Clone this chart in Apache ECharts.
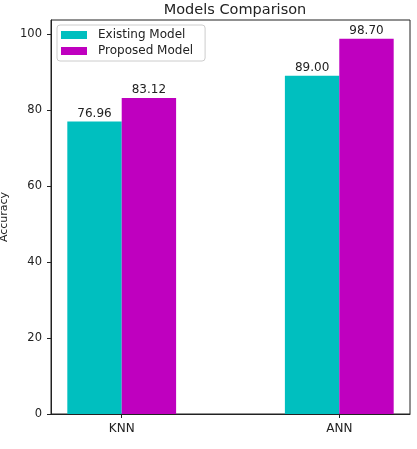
<!DOCTYPE html>
<html lang="en">
<head>
    <meta charset="UTF-8">
    <title>Models Comparison</title>
    <script src="https://cdn.jsdelivr.net/npm/echarts@6.0.0/dist/echarts.min.js"></script>
    <style>
        html, body { margin: 0; padding: 0; background: #fff; }
    </style>
</head>
<body>
<div id="chart" style="width: 417px; height:449px;"></div>
<script>
    var categories = ['KNN', 'ANN'];
    var existingModel = [76.96, 89.00];
    var proposedModel = [83.12, 98.70];
    var yTicks = [0, 20, 40, 60, 80, 100];

    var barW = 0.25;
    var font = 'DejaVu Sans';

    function place(values, shift) {
        return values.map(function (v, i) { return [i + shift, v]; });
    }

    var chart = echarts.init(document.getElementById('chart'));
    var option = {
        animation: false,
        title: {
            text: 'Models Comparison',
            left: 230,
            textAlign: 'center',
            top: -2,
            textStyle: { fontFamily: font, fontSize: 14.5, fontWeight: 'normal', color: '#222' }
        },
        legend: {
            orient: 'vertical',
            left: 57,
            top: 25,
            itemWidth: 26,
            itemHeight: 8,
            itemGap: 4,
            padding: [4, 12, 4, 4],
            borderColor: '#ccc',
            borderWidth: 1,
            borderRadius: 3,
            backgroundColor: 'rgba(255,255,255,0.8)',
            textStyle: { fontFamily: font, fontSize: 12, color: '#222', padding: [0, 0, 0, 6] },
            data: [
                { name: 'Existing Model', icon: 'rect' },
                { name: 'Proposed Model', icon: 'rect' }
            ]
        },
        grid: {
            left: 51, right: 7, top: 20, bottom: 35,
            outerBoundsMode: 'none',
            containLabel: false,
            show: true, borderColor: '#222', borderWidth: 1
        },
        xAxis: {
            type: 'value',
            min: -0.325,
            max: 1.325,
            interval: 1,
            splitLine: { show: false },
            axisLine: { onZero: false, lineStyle: { color: '#222' } },
            axisTick: { length: 4, customValues: [0, 1], lineStyle: { color: '#222' } },
            axisLabel: {
                customValues: [0, 1],
                fontFamily: font, fontSize: 12, color: '#222', margin: 9,
                formatter: function (v) {
                    var i = Math.round(v);
                    return Math.abs(v - i) < 1e-6 && categories[i] ? categories[i] : '';
                }
            }
        },
        yAxis: {
            type: 'value',
            min: 0,
            max: 103.635,
            interval: 20,
            name: 'Accuracy',
            nameLocation: 'middle',
            nameGap: 37,
            nameTextStyle: { fontFamily: font, fontSize: 11, color: '#222' },
            splitLine: { show: false },
            axisLine: { show: true, onZero: false, lineStyle: { color: '#222' } },
            axisTick: { show: true, length: 4, customValues: yTicks, lineStyle: { color: '#222' } },
            axisLabel: {
                customValues: yTicks,
                fontFamily: font, fontSize: 11.5, color: '#222', margin: 9,
                formatter: function (v) { return yTicks.indexOf(v) >= 0 ? String(v) : ''; }
            }
        },
        series: [
            {
                name: 'Existing Model',
                type: 'bar',
                barWidth: 54.4,
                barGap: '-100%',
                itemStyle: { color: '#00bfbf' },
                label: {
                    show: true, position: 'top', distance: 2,
                    fontFamily: font, fontSize: 12, color: '#222',
                    formatter: function (p) { return p.value[1].toFixed(2); }
                },
                data: place(existingModel, -barW / 2)
            },
            {
                name: 'Proposed Model',
                type: 'bar',
                barWidth: 54.4,
                barGap: '-100%',
                itemStyle: { color: '#bf00bf' },
                label: {
                    show: true, position: 'top', distance: 2,
                    fontFamily: font, fontSize: 12, color: '#222',
                    formatter: function (p) { return p.value[1].toFixed(2); }
                },
                data: place(proposedModel, barW / 2)
            }
        ]
    };
    chart.setOption(option);
</script>
</body>
</html>
